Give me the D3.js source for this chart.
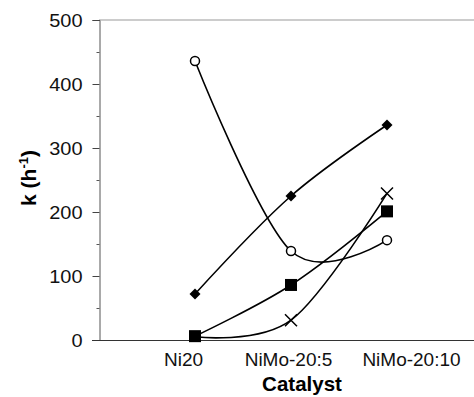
<!DOCTYPE html>
<html><head><meta charset="utf-8">
<script src="https://cdn.jsdelivr.net/npm/d3@7"></script>
<style>body{margin:0;background:#fff}svg{display:block}text{font-family:"Liberation Sans",Arial,sans-serif}</style>
</head><body><svg id="c" width="474" height="397"></svg>
<script>
const categories = ["Ni20", "NiMo-20:5", "NiMo-20:10"];
const circleSeries = [436, 139, 156];
const diamondSeries = [72, 225, 336];
const squareSeries = [6, 86, 201];
const crossSeries = [5, 31, 229];
const yTicks = [0, 100, 200, 300, 400, 500];
const yMinorTicks = [50, 150, 250, 350, 450];

const svg = d3.select("#c");
const x = d3.scaleLinear().domain([-1, 3]).range([99, 483]);
const y = d3.scaleLinear().domain([0, 500]).range([340, 20]);
// label placement nudges (layout only)
const labelNudge = [-12, -3, 24];

// top border
svg.append("line").attr("x1", 99).attr("x2", 474).attr("y1", y(500)).attr("y2", y(500))
  .attr("stroke", "#999").attr("stroke-width", 1);

// y axis
const ya = svg.append("g").attr("transform", "translate(99.5,0)")
  .call(d3.axisLeft(y).tickValues(yTicks).tickSize(7).tickPadding(9));
ya.attr("font-family", null).attr("font-size", null);
ya.select(".domain").attr("stroke", "#555");
ya.selectAll(".tick line").attr("stroke", "#444");
ya.selectAll("text").attr("font-size", 19).attr("fill", "#111")
  .attr("transform", "scale(1.05,1)").attr("x", -17 / 1.05).attr("text-anchor", "end");
svg.append("g").attr("transform", "translate(99.5,0)")
  .call(d3.axisLeft(y).tickValues(yMinorTicks).tickSize(3).tickFormat(""))
  .call(g => g.select(".domain").remove())
  .selectAll("line").attr("stroke", "#555");

// x axis
const xa = svg.append("g").attr("transform", `translate(0,${y(0)+0.5})`)
  .call(d3.axisBottom(x).tickValues([0,1,2]).tickFormat(i => categories[i]).tickSize(0).tickPadding(12));
xa.attr("font-family", null).attr("font-size", null);
xa.select(".domain").attr("d", `M92,0H474`).attr("stroke", "#333");
xa.selectAll("text").attr("font-size", 19).attr("fill", "#111").attr("x", (d, i) => labelNudge[i]);

// axis titles
svg.append("text").attr("x", 302).attr("y", 391).attr("text-anchor", "middle")
  .attr("font-size", 20.5).attr("font-weight", "bold").text("Catalyst");
const yl = svg.append("text").attr("transform", "translate(36,178) rotate(-90)")
  .attr("text-anchor", "middle").attr("font-size", 21).attr("font-weight", "bold");
yl.append("tspan").text("k (h");
yl.append("tspan").attr("font-size", 13).attr("dy", -8).text("-1");
yl.append("tspan").attr("dy", 8).text(")");

const line = d3.line().x((d, i) => x(i)).y(d => y(d)).curve(d3.curveCardinal.tension(0));
const series = [circleSeries, diamondSeries, squareSeries, crossSeries];
series.forEach(s => {
  svg.append("path").attr("d", line(s)).attr("fill", "none").attr("stroke", "#000").attr("stroke-width", 1.6);
});

// markers
svg.selectAll(".sq").data(squareSeries).join("rect")
  .attr("x", (d, i) => x(i) - 6).attr("y", d => y(d) - 6).attr("width", 12).attr("height", 12).attr("fill", "#000");
svg.selectAll(".dm").data(diamondSeries).join("path")
  .attr("d", (d, i) => `M${x(i)},${y(d)-5.5}L${x(i)+5.5},${y(d)}L${x(i)},${y(d)+5.5}L${x(i)-5.5},${y(d)}Z`).attr("fill", "#000");
svg.selectAll(".ci").data(circleSeries).join("circle")
  .attr("cx", (d, i) => x(i)).attr("cy", d => y(d)).attr("r", 4.5)
  .attr("fill", "#fff").attr("stroke", "#000").attr("stroke-width", 1.5);
svg.selectAll(".cr").data(crossSeries).join("path")
  .attr("d", (d, i) => { const cx = x(i), cy = y(d), r = 6; return `M${cx-r},${cy-r}L${cx+r},${cy+r}M${cx-r},${cy+r}L${cx+r},${cy-r}`; })
  .attr("stroke", (d, i) => i === 0 ? "none" : "#000").attr("stroke-width", 1.5).attr("fill", "none");
</script></body></html>
